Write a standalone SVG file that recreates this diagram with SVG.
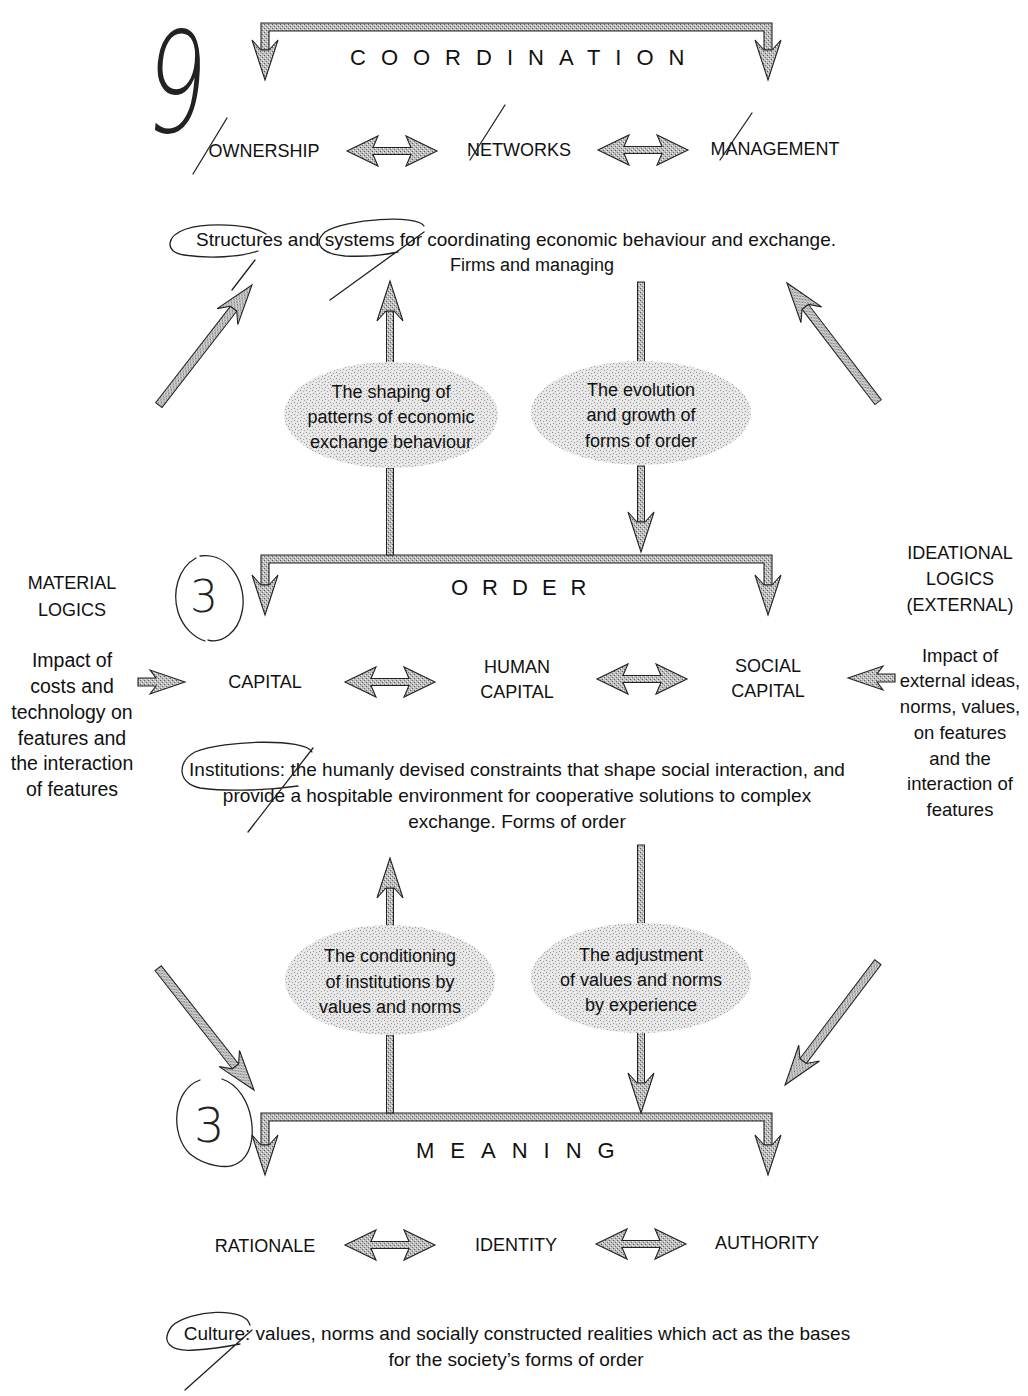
<svg xmlns="http://www.w3.org/2000/svg" xmlns:xlink="http://www.w3.org/1999/xlink" width="1028" height="1396" viewBox="0 0 1028 1396">
<style>
.t{font-family:"Liberation Sans",Arial,sans-serif;font-size:18px;fill:#111;text-anchor:middle}
.b{font-size:19px}
.e{font-size:18px}
.sl{font-size:19.5px}
.sr{font-size:18.5px}
.big{font-family:"Liberation Sans",Arial,sans-serif;font-size:22px;fill:#111}
.ell{fill:url(#stip)}
.br{fill:url(#hatch);stroke:#222;stroke-width:1.1;stroke-linejoin:miter}
.stem{fill:url(#hatch);stroke:#222;stroke-width:1}
.hand{fill:none;stroke:#222;stroke-width:1.3;stroke-linecap:round;stroke-linejoin:round}
.hnum{font-family:"DejaVu Sans",sans-serif;font-weight:200;fill:#222}
</style>
<defs>
<pattern id="stip" width="6" height="6" patternUnits="userSpaceOnUse">
<rect width="6" height="6" fill="#e6e6e6"/>
<rect x="0" y="0" width="1" height="1" fill="#8f8f8f"/>
<rect x="3" y="1" width="1" height="1" fill="#a3a3a3"/>
<rect x="1" y="3" width="1" height="1" fill="#969696"/>
<rect x="4" y="4" width="1" height="1" fill="#a0a0a0"/>
<rect x="5" y="2" width="1" height="1" fill="#f8f8f8"/>
<rect x="2" y="5" width="1" height="1" fill="#f4f4f4"/>
</pattern>
<pattern id="hatch" width="4" height="4" patternUnits="userSpaceOnUse">
<rect width="4" height="4" fill="#bdbdbd"/>
<rect x="0" y="0" width="1" height="1" fill="#5a5a5a"/>
<rect x="2" y="2" width="1" height="1" fill="#6e6e6e"/>
<rect x="3" y="1" width="1" height="1" fill="#f0f0f0"/>
<rect x="1" y="3" width="1" height="1" fill="#eeeeee"/>
</pattern>
<path id="head" class="br" d="M0,0 L-13,40 L-4,30 L4,30 L13,40 Z"/>
<path id="dbl" class="br" d="M-45,0 L-14,-15 L-19,-3.5 L19,-3.5 L14,-15 L45,0 L14,15 L19,3.5 L-19,3.5 L-14,15 Z"/>
</defs>
<rect width="1028" height="1396" fill="#fff"/>

<g id="connectors">
  <path class="br" d="M261,23 H772 V50 H764 V31 H269 V50 H261 Z"/>
  <use xlink:href="#head" href="#head" transform="translate(265,80) rotate(180)"/>
  <use xlink:href="#head" href="#head" transform="translate(768,80) rotate(180)"/>
  <path class="br" d="M261,555 H772 V585 H764 V563 H269 V585 H261 Z"/>
  <use xlink:href="#head" href="#head" transform="translate(265,615) rotate(180)"/>
  <use xlink:href="#head" href="#head" transform="translate(768,615) rotate(180)"/>
  <path class="br" d="M261,1113 H772 V1145 H764 V1121 H269 V1145 H261 Z"/>
  <use xlink:href="#head" href="#head" transform="translate(265,1175) rotate(180)"/>
  <use xlink:href="#head" href="#head" transform="translate(768,1175) rotate(180)"/>
  <rect class="stem" x="386.5" y="311" width="7" height="52"/>
  <use xlink:href="#head" href="#head" transform="translate(390,281)"/>
  <rect class="stem" x="637.5" y="282" width="7" height="81"/>
  <rect class="stem" x="386.5" y="468" width="7" height="87"/>
  <rect class="stem" x="637.5" y="466" width="7" height="56"/>
  <use xlink:href="#head" href="#head" transform="translate(641,552) rotate(180)"/>
  <rect class="stem" x="386.5" y="888" width="7" height="38"/>
  <use xlink:href="#head" href="#head" transform="translate(390,858)"/>
  <rect class="stem" x="637.5" y="845" width="7" height="79"/>
  <rect class="stem" x="386.5" y="1035" width="7" height="78"/>
  <rect class="stem" x="637.5" y="1032" width="7" height="52"/>
  <use xlink:href="#head" href="#head" transform="translate(641,1113) rotate(180)"/>
  <g transform="translate(252,285) rotate(37.8)"><rect class="stem" x="-4" y="30" width="8" height="122"/><use xlink:href="#head" href="#head"/></g>
  <g transform="translate(787,283) rotate(-37.4)"><rect class="stem" x="-4" y="30" width="8" height="120"/><use xlink:href="#head" href="#head"/></g>
  <g transform="translate(254,1090) rotate(141.8)"><rect class="stem" x="-4" y="30" width="8" height="125"/><use xlink:href="#head" href="#head"/></g>
  <g transform="translate(785,1085) rotate(-142.9)"><rect class="stem" x="-4" y="30" width="8" height="124"/><use xlink:href="#head" href="#head"/></g>
  <use xlink:href="#dbl" href="#dbl" transform="translate(392,151)"/>
  <use xlink:href="#dbl" href="#dbl" transform="translate(643,150)"/>
  <use xlink:href="#dbl" href="#dbl" transform="translate(390,682)"/>
  <use xlink:href="#dbl" href="#dbl" transform="translate(642,679)"/>
  <use xlink:href="#dbl" href="#dbl" transform="translate(390,1245)"/>
  <use xlink:href="#dbl" href="#dbl" transform="translate(641,1244)"/>
  <path class="br" d="M138,678 H156 L150,670 L185,682 L150,694 L156,686 H138 Z"/>
  <path class="br" d="M895,674 H877 L883,666 L848,678 L883,690 L877,682 H895 Z"/>
</g>

<g id="coordination"><text class="big" x="350" y="65" letter-spacing="15">COORDINATION</text></g>
<g id="ownership"><text class="t" x="264" y="157">OWNERSHIP</text></g>
<g id="networks"><text class="t" x="519" y="156">NETWORKS</text></g>
<g id="management"><text class="t" x="775" y="155">MANAGEMENT</text></g>
<g id="coord-desc">
  <text class="t b" x="516" y="246">Structures and systems for coordinating economic behaviour and exchange.</text>
  <text class="t" x="532" y="271" font-size="17">Firms and managing</text>
</g>
<g id="shaping">
  <ellipse class="ell" cx="391" cy="415" rx="107" ry="53"/>
  <text class="t e" x="391" y="398">The shaping of</text>
  <text class="t e" x="391" y="423">patterns of economic</text>
  <text class="t e" x="391" y="448">exchange behaviour</text>
</g>
<g id="evolution">
  <ellipse class="ell" cx="641" cy="413" rx="110" ry="52"/>
  <text class="t e" x="641" y="396">The evolution</text>
  <text class="t e" x="641" y="421">and growth of</text>
  <text class="t e" x="641" y="447">forms of order</text>
</g>
<g id="order"><text class="big" x="451" y="595" font-size="23" letter-spacing="14">ORDER</text></g>
<g id="material-logics">
  <text class="t" x="72" y="589">MATERIAL</text>
  <text class="t" x="72" y="616">LOGICS</text>
</g>
<g id="ideational-logics">
  <text class="t" x="960" y="559">IDEATIONAL</text>
  <text class="t" x="960" y="585">LOGICS</text>
  <text class="t" x="960" y="611">(EXTERNAL)</text>
</g>
<g id="material-impact">
  <text class="t sl" x="72" y="667">Impact of</text>
  <text class="t sl" x="72" y="693">costs and</text>
  <text class="t sl" x="72" y="719">technology on</text>
  <text class="t sl" x="72" y="745">features and</text>
  <text class="t sl" x="72" y="770">the interaction</text>
  <text class="t sl" x="72" y="796">of features</text>
</g>
<g id="ideational-impact">
  <text class="t sr" x="960" y="662">Impact of</text>
  <text class="t sr" x="960" y="687">external ideas,</text>
  <text class="t sr" x="960" y="713">norms, values,</text>
  <text class="t sr" x="960" y="739">on features</text>
  <text class="t sr" x="960" y="765">and the</text>
  <text class="t sr" x="960" y="790">interaction of</text>
  <text class="t sr" x="960" y="816">features</text>
</g>
<g id="capital"><text class="t" x="265" y="688">CAPITAL</text></g>
<g id="human-capital">
  <text class="t" x="517" y="673">HUMAN</text>
  <text class="t" x="517" y="698">CAPITAL</text>
</g>
<g id="social-capital">
  <text class="t" x="768" y="672">SOCIAL</text>
  <text class="t" x="768" y="697">CAPITAL</text>
</g>
<g id="institutions">
  <text class="t b" x="517" y="776">Institutions: the humanly devised constraints that shape social interaction, and</text>
  <text class="t b" x="517" y="802">provide a hospitable environment for cooperative solutions to complex</text>
  <text class="t b" x="517" y="828">exchange. Forms of order</text>
</g>
<g id="conditioning">
  <ellipse class="ell" cx="390" cy="980" rx="105" ry="55"/>
  <text class="t e" x="390" y="962">The conditioning</text>
  <text class="t e" x="390" y="988">of institutions by</text>
  <text class="t e" x="390" y="1013">values and norms</text>
</g>
<g id="adjustment">
  <ellipse class="ell" cx="641" cy="978" rx="110" ry="55"/>
  <text class="t e" x="641" y="961">The adjustment</text>
  <text class="t e" x="641" y="986">of values and norms</text>
  <text class="t e" x="641" y="1011">by experience</text>
</g>
<g id="meaning"><text class="big" x="416" y="1158" font-size="23" letter-spacing="16">MEANING</text></g>
<g id="rationale"><text class="t" x="265" y="1252">RATIONALE</text></g>
<g id="identity"><text class="t" x="516" y="1251">IDENTITY</text></g>
<g id="authority"><text class="t" x="767" y="1249">AUTHORITY</text></g>
<g id="culture">
  <text class="t b" x="517" y="1340">Culture: values, norms and socially constructed realities which act as the bases</text>
  <text class="t b" x="516" y="1366" font-size="19.5">for the society’s forms of order</text>
</g>

<g id="annotations">
  <text class="hnum" transform="translate(142,132) scale(0.95,1.4) skewX(-8)" font-size="100">9</text>
  <path class="hand" d="M193,174 L227,118 M470,160 L505,105 M720,160 L752,113"/>
  <path class="hand" d="M266,234 C250,223 205,223 186,229 C166,236 164,252 184,255 C210,259 240,257 258,251 M255,260 L232,290"/>
  <path class="hand" d="M424,226 C418,214 345,219 325,232 C312,244 322,254 345,256 C368,257 385,255 398,252 M424,232 L330,300"/>
  <path class="hand" d="M200,556 C230,552 248,585 242,612 C238,632 222,644 208,640 M196,558 C178,568 172,592 178,612 C183,628 195,638 205,641"/>
  <text class="hnum" x="190" y="612" font-size="44">3</text>
  <path class="hand" d="M312,752 C305,738 225,740 195,752 C176,762 178,784 200,788 C230,792 270,790 298,786 M313,748 L248,832"/>
  <path class="hand" d="M222,1079 C255,1090 262,1150 238,1163 C228,1170 205,1166 190,1154 C170,1135 172,1090 200,1080"/>
  <text class="hnum" x="194" y="1142" font-size="48">3</text>
  <path class="hand" d="M250,1325 C245,1306 190,1310 172,1326 C160,1342 170,1352 195,1350 C215,1349 230,1346 240,1344 M252,1330 L185,1390"/>
</g>
</svg>
